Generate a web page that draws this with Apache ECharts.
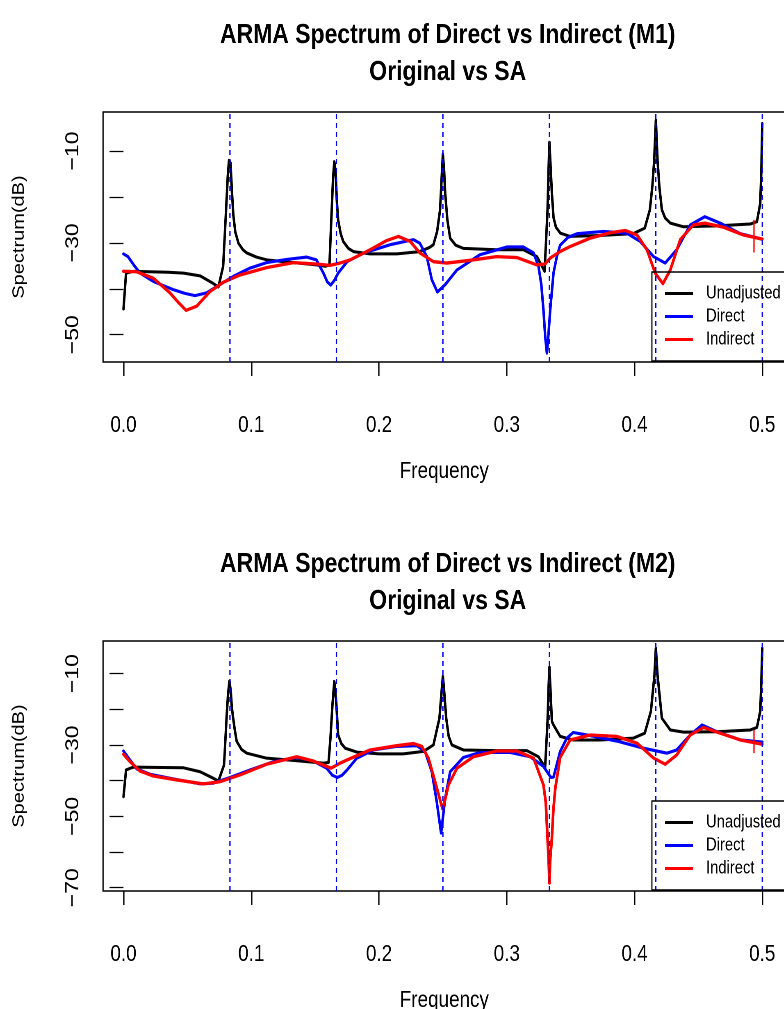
<!DOCTYPE html>
<html>
<head>
<meta charset="utf-8">
<title>ARMA Spectrum of Direct vs Indirect</title>
<script src="https://cdn.jsdelivr.net/npm/echarts@6/dist/echarts.min.js"></script>
<style>
  html, body { margin: 0; padding: 0; background: #fff; overflow: hidden; }
  #frame { width: 784px; height: 1009px; overflow: hidden; }
  /* the plot is laid out on a wider sheet and narrowed horizontally,
     which gives the condensed lettering of the original figure */
  #chart { width: 956px; height: 1009px; transform: scaleX(0.82); transform-origin: 0 0; }
</style>
</head>
<body>
<div id="frame"><div id="chart"></div></div>
<script>
// Frequency tick labels and seasonal frequencies (k/12)
const freqTicks = [0, 0.1, 0.2, 0.3, 0.4, 0.5];
const seasonalFreqs = [1 / 12, 2 / 12, 3 / 12, 4 / 12, 5 / 12, 6 / 12];
const m1YTicks = [-50, -40, -30, -20, -10];
const m1YLabels = [-50, -30, -10];
const m2YTicks = [-70, -60, -50, -40, -30, -20, -10];
const m2YLabels = [-70, -50, -30, -10];
const seriesNames = ['Unadjusted', 'Direct', 'Indirect'];

// M1 spectra: [frequency, dB]
const m1Unadjusted = [
  [0, -44.4], [0.002, -36.6], [0.0077, -36.2], [0.02, -36.3], [0.035, -36.4], [0.047, -36.6],
  [0.06, -37.2], [0.07, -38.8], [0.0743, -39.6], [0.078, -35.1], [0.0803, -22.8], [0.0816, -15.6],
  [0.0826, -12.0], [0.0838, -12.6], [0.0848, -18.5], [0.086, -24.0], [0.0875, -27.6], [0.09, -30.1],
  [0.0935, -31.5], [0.0965, -32.2], [0.104, -33.1], [0.112, -33.7], [0.133, -34.3], [0.151, -34.8],
  [0.158, -35.1], [0.1612, -34.8], [0.1628, -24.0], [0.164, -16.0], [0.165, -12.3], [0.166, -14.5],
  [0.167, -21.0], [0.168, -25.0], [0.17, -28.0], [0.172, -29.7], [0.176, -31.2], [0.18, -31.9],
  [0.193, -32.4], [0.214, -32.4], [0.232, -31.9], [0.2395, -31.0], [0.2426, -30.4], [0.2455, -27.5],
  [0.2478, -22.8], [0.249, -16.0], [0.25, -10.65], [0.251, -14.5], [0.2518, -19.2], [0.2535, -25.0],
  [0.2557, -29.0], [0.26, -30.5], [0.266, -31.2], [0.292, -31.5], [0.313, -31.5], [0.3236, -33.0],
  [0.3296, -36.2], [0.3319, -22.8], [0.3327, -14.0], [0.3334, -8.1], [0.3343, -13.5], [0.3353, -19.2],
  [0.3366, -24.5], [0.3385, -26.6], [0.342, -27.9], [0.3496, -28.6], [0.373, -28.4], [0.399, -28.0],
  [0.408, -26.8], [0.412, -22.8], [0.414, -17.5], [0.4154, -12.0], [0.4167, -3.3], [0.418, -12.0],
  [0.4195, -18.0], [0.4214, -22.8], [0.424, -24.6], [0.428, -25.7], [0.4384, -26.5], [0.4645, -26.3],
  [0.4906, -25.9], [0.4958, -25.4], [0.4984, -21.4], [0.4993, -14.0], [0.5, -4.0]
];
const m1Direct = [
  [0, -32.4], [0.0035, -33.0], [0.008, -34.8], [0.013, -36.6], [0.0233, -38.4], [0.039, -40.2],
  [0.048, -41.0], [0.056, -41.5], [0.065, -40.9], [0.073, -39.5], [0.086, -37.3], [0.099, -35.5],
  [0.112, -34.3], [0.128, -33.6], [0.1435, -33.1], [0.151, -33.7], [0.1565, -36.6], [0.1595, -38.5],
  [0.1622, -39.2], [0.165, -38.2], [0.168, -36.6], [0.175, -34.1], [0.188, -32.2], [0.2087, -30.4],
  [0.227, -29.3], [0.232, -30.1], [0.2374, -33.0], [0.2413, -38.0], [0.2457, -40.7], [0.2518, -39.1],
  [0.261, -35.9], [0.279, -32.6], [0.3, -30.9], [0.313, -30.9], [0.321, -32.2], [0.3248, -35.1],
  [0.327, -39.0], [0.3287, -44.6], [0.3301, -50.5], [0.3314, -54.0], [0.3326, -50.0], [0.334, -44.6],
  [0.3366, -36.5], [0.3392, -33.0], [0.3418, -30.5], [0.348, -28.8], [0.355, -28.0], [0.3757, -27.5],
  [0.394, -27.9], [0.4045, -29.7], [0.4149, -33.0], [0.424, -34.4], [0.433, -31.5], [0.4436, -26.1],
  [0.455, -24.3], [0.467, -25.7], [0.4828, -28.0], [0.5, -29.2]
];
const m1Indirect = [
  [0, -36.2], [0.0103, -36.3], [0.0233, -37.7], [0.0364, -40.9], [0.043, -43.0], [0.049, -44.7],
  [0.0573, -43.8], [0.0677, -40.6], [0.078, -38.6], [0.0912, -37.0], [0.112, -35.4], [0.133, -34.3],
  [0.151, -34.6], [0.1617, -34.9], [0.1695, -34.4], [0.1774, -33.7], [0.193, -31.5], [0.206, -29.5],
  [0.2152, -28.6], [0.2244, -29.7], [0.232, -32.2], [0.2426, -34.1], [0.253, -34.4], [0.2713, -33.8],
  [0.292, -33.0], [0.308, -33.2], [0.3236, -34.8], [0.33, -34.6], [0.334, -33.3], [0.3418, -31.9],
  [0.3496, -30.8], [0.365, -29.0], [0.381, -27.8], [0.3927, -27.3], [0.402, -28.3], [0.4097, -31.5],
  [0.4162, -36.6], [0.4222, -38.9], [0.428, -35.9], [0.4358, -29.3], [0.446, -26.1], [0.455, -25.7],
  [0.4697, -26.6], [0.4853, -28.3], [0.5, -29.2]
];
const m1IndirectMark = [[0.4935, -25.0], [0.4935, -32.1]];

// M2 spectra: [frequency, dB]
const m2Unadjusted = [
  [0, -44.5], [0.002, -37.0], [0.0077, -36.2], [0.03, -36.3], [0.047, -36.4], [0.06, -37.5],
  [0.069, -39.1], [0.0743, -40.1], [0.0787, -35.6], [0.0808, -21.6], [0.0818, -16.0], [0.0829, -12.1],
  [0.084, -15.0], [0.0847, -19.0], [0.0855, -21.6], [0.087, -25.5], [0.0886, -29.0], [0.0925, -31.3],
  [0.0965, -32.3], [0.112, -33.7], [0.138, -34.5], [0.1565, -35.1], [0.1605, -34.9], [0.162, -28.0],
  [0.1635, -19.0], [0.165, -12.2], [0.1665, -18.0], [0.168, -27.2], [0.1705, -29.6], [0.1735, -30.9],
  [0.1826, -32.0], [0.2, -32.5], [0.219, -32.5], [0.2348, -31.8], [0.2426, -30.0], [0.2473, -22.5],
  [0.249, -15.0], [0.25, -10.8], [0.251, -15.0], [0.2526, -22.5], [0.2545, -27.5], [0.257, -30.0],
  [0.266, -31.4], [0.292, -31.6], [0.3157, -31.6], [0.3248, -33.3], [0.33, -36.3], [0.3319, -23.4],
  [0.3327, -14.0], [0.3334, -8.2], [0.3343, -15.5], [0.3353, -23.4], [0.3366, -24.4], [0.3418, -27.6],
  [0.352, -28.6], [0.373, -28.6], [0.399, -28.1], [0.408, -26.7], [0.4128, -20.6], [0.4156, -10.4],
  [0.4167, -2.9], [0.418, -10.4], [0.4214, -22.5], [0.428, -25.8], [0.4384, -26.4], [0.4645, -26.3],
  [0.4906, -25.8], [0.4958, -25.1], [0.4984, -20.6], [0.4993, -12.0], [0.5, -2.9]
];
const m2Direct = [
  [0, -31.7], [0.004, -33.7], [0.0103, -36.7], [0.0208, -38.2], [0.039, -39.5], [0.06, -40.9],
  [0.0703, -40.7], [0.0834, -39.1], [0.099, -37.0], [0.1173, -34.7], [0.1356, -33.5], [0.1486, -34.5],
  [0.159, -36.5], [0.1635, -38.5], [0.1674, -39.1], [0.171, -38.5], [0.175, -37.0], [0.1826, -33.7],
  [0.1956, -31.4], [0.214, -30.4], [0.2296, -30.2], [0.236, -31.8], [0.2413, -37.5], [0.2452, -45.9],
  [0.2486, -54.7], [0.2518, -44.9], [0.2557, -37.5], [0.266, -33.5], [0.279, -32.1], [0.3027, -32.1],
  [0.3183, -33.3], [0.3287, -36.0], [0.3345, -39.1], [0.3366, -39.0], [0.3418, -31.8], [0.347, -28.1],
  [0.352, -26.5], [0.3627, -27.2], [0.386, -28.9], [0.407, -30.9], [0.4254, -32.3], [0.433, -31.4],
  [0.4436, -27.2], [0.4528, -24.4], [0.4645, -26.3], [0.4829, -28.6], [0.5, -29.2]
];
const m2Indirect = [
  [0, -32.6], [0.0051, -34.7], [0.0129, -37.3], [0.0233, -38.7], [0.0417, -39.8], [0.0625, -40.9],
  [0.0756, -40.3], [0.0912, -38.4], [0.112, -35.4], [0.1356, -33.3], [0.1486, -34.5], [0.1625, -36.5],
  [0.1695, -35.1], [0.175, -34.2], [0.193, -31.4], [0.214, -30.2], [0.227, -29.6], [0.2335, -30.4],
  [0.2387, -33.7], [0.2439, -40.3], [0.2475, -45.0], [0.2497, -47.9], [0.252, -45.0], [0.2544, -41.2],
  [0.261, -36.5], [0.274, -33.3], [0.292, -31.7], [0.308, -31.7], [0.321, -33.7], [0.3287, -41.2],
  [0.3305, -46.0], [0.3319, -56.1], [0.3327, -62.0], [0.3334, -68.7], [0.334, -62.0], [0.3353, -56.1],
  [0.3365, -48.0], [0.338, -42.1], [0.3418, -33.5], [0.3496, -28.6], [0.3653, -27.2], [0.386, -27.6],
  [0.402, -29.5], [0.415, -33.7], [0.424, -35.4], [0.433, -32.8], [0.4436, -27.2], [0.454, -25.1],
  [0.467, -26.7], [0.4829, -28.6], [0.5, -29.8]
];
const m2IndirectMark = [[0.4935, -25.8], [0.4935, -32.3]];

// y ranges of the two panels (R style 4% padding around the data)
const m1YRange = [-55.95, -1.5];
const m2YRange = [-70.92, -0.87];

const FONT = '"Liberation Sans", Arial, Helvetica, sans-serif';
const colors = { Unadjusted: '#000000', Direct: '#0000ff', Indirect: '#ff0000' };
const minus = v => String(v).replace('-', '\u2212');

function xAxisFor(gridIndex) {
  return {
    type: 'value', gridIndex, min: -0.016, max: 0.5182,
    name: 'Frequency', nameLocation: 'middle', nameGap: 98,
    nameTextStyle: { fontFamily: FONT, fontSize: 23, color: '#000' },
    axisLine: { show: false },
    splitLine: { show: false },
    axisTick: { show: true, customValues: freqTicks, length: 14, lineStyle: { color: '#000', width: 1.6 } },
    axisLabel: {
      customValues: freqTicks, margin: 52, fontFamily: FONT, fontSize: 23, color: '#000',
      formatter: v => Number(v).toFixed(1)
    }
  };
}
function yAxisFor(gridIndex, range, ticks, labels) {
  return {
    type: 'value', gridIndex, min: range[0], max: range[1],
    name: 'Spectrum(dB)', nameLocation: 'middle', nameGap: 92, nameRotate: 90,
    nameTextStyle: { fontFamily: FONT, fontSize: 20, color: '#000' },
    axisLine: { show: false },
    splitLine: { show: false },
    axisTick: { show: true, customValues: ticks, length: 17, lineStyle: { color: '#000', width: 1.3 } },
    axisLabel: {
      customValues: labels, rotate: 90, margin: 25, fontFamily: FONT, fontSize: 23, color: '#000',
      formatter: v => minus(v)
    }
  };
}
function curves(idx, range, unadj, direct, indirect, mark) {
  const mk = (name, data, w) => ({
    type: 'line', name, xAxisIndex: idx, yAxisIndex: idx, data,
    showSymbol: false, symbol: 'none', smooth: false,
    clip: true, animation: false,
    itemStyle: { color: colors[name] },
    lineStyle: { color: colors[name], width: w, join: 'round', cap: 'round' }
  });
  // dashed guides at the seasonal frequencies, spanning the panel height
  const guides = seasonalFreqs.map(f => ({
    type: 'line', name: 'seasonal', xAxisIndex: idx, yAxisIndex: idx,
    data: [[f, range[0]], [f, range[1]]],
    showSymbol: false, symbol: 'none', silent: true, animation: false, z: 3,
    lineStyle: { color: '#0000ff', width: 1.6, type: [5, 4] }
  }));
  return [
    mk('Unadjusted', unadj, 3),
    mk('Direct', direct, 3.1),
    mk('Indirect', indirect, 3.3),
    ...guides,
    {
      type: 'line', name: 'IndirectMark', xAxisIndex: idx, yAxisIndex: idx, data: mark,
      showSymbol: false, symbol: 'none', animation: false,
      lineStyle: { color: '#ff0000', width: 1.6 }
    }
  ];
}
function legendFor(top) {
  return {
    data: seriesNames, orient: 'vertical', left: 795, top,
    icon: 'rect', itemWidth: 34, itemHeight: 3, itemGap: 4,
    padding: [12, 40, 12, 16],
    borderColor: '#000', borderWidth: 1.4, backgroundColor: 'transparent',
    selectedMode: false,
    textStyle: { fontFamily: FONT, fontSize: 18, color: '#000', lineHeight: 19, padding: [0, 0, 0, 11] }
  };
}
function titleFor(text, top) {
  return {
    text, left: 541, top, textAlign: 'center',
    textStyle: { fontFamily: FONT, fontSize: 28, fontWeight: 'bold', color: '#000', lineHeight: 37 }
  };
}
function gridFor(top) {
  return {
    left: 125.67, top, width: 832.3, height: 250, outerBoundsMode: 'none', containLabel: false,
    show: true, borderColor: '#000', borderWidth: 1.5, backgroundColor: 'transparent'
  };
}

const chart = echarts.init(document.getElementById('chart'), null, { renderer: 'canvas', devicePixelRatio: 2 });
chart.setOption({
  backgroundColor: '#ffffff',
  animation: false,
  title: [
    titleFor('ARMA Spectrum of Direct vs Indirect (M1)\nOriginal vs SA', 12),
    titleFor('ARMA Spectrum of Direct vs Indirect (M2)\nOriginal vs SA', 541)
  ],
  legend: [legendFor(272), legendFor(801)],
  grid: [gridFor(112), gridFor(641)],
  xAxis: [xAxisFor(0), xAxisFor(1)],
  yAxis: [
    yAxisFor(0, m1YRange, m1YTicks, m1YLabels),
    yAxisFor(1, m2YRange, m2YTicks, m2YLabels)
  ],
  series: [
    ...curves(0, m1YRange, m1Unadjusted, m1Direct, m1Indirect, m1IndirectMark),
    ...curves(1, m2YRange, m2Unadjusted, m2Direct, m2Indirect, m2IndirectMark)
  ]
});
</script>
</body>
</html>
